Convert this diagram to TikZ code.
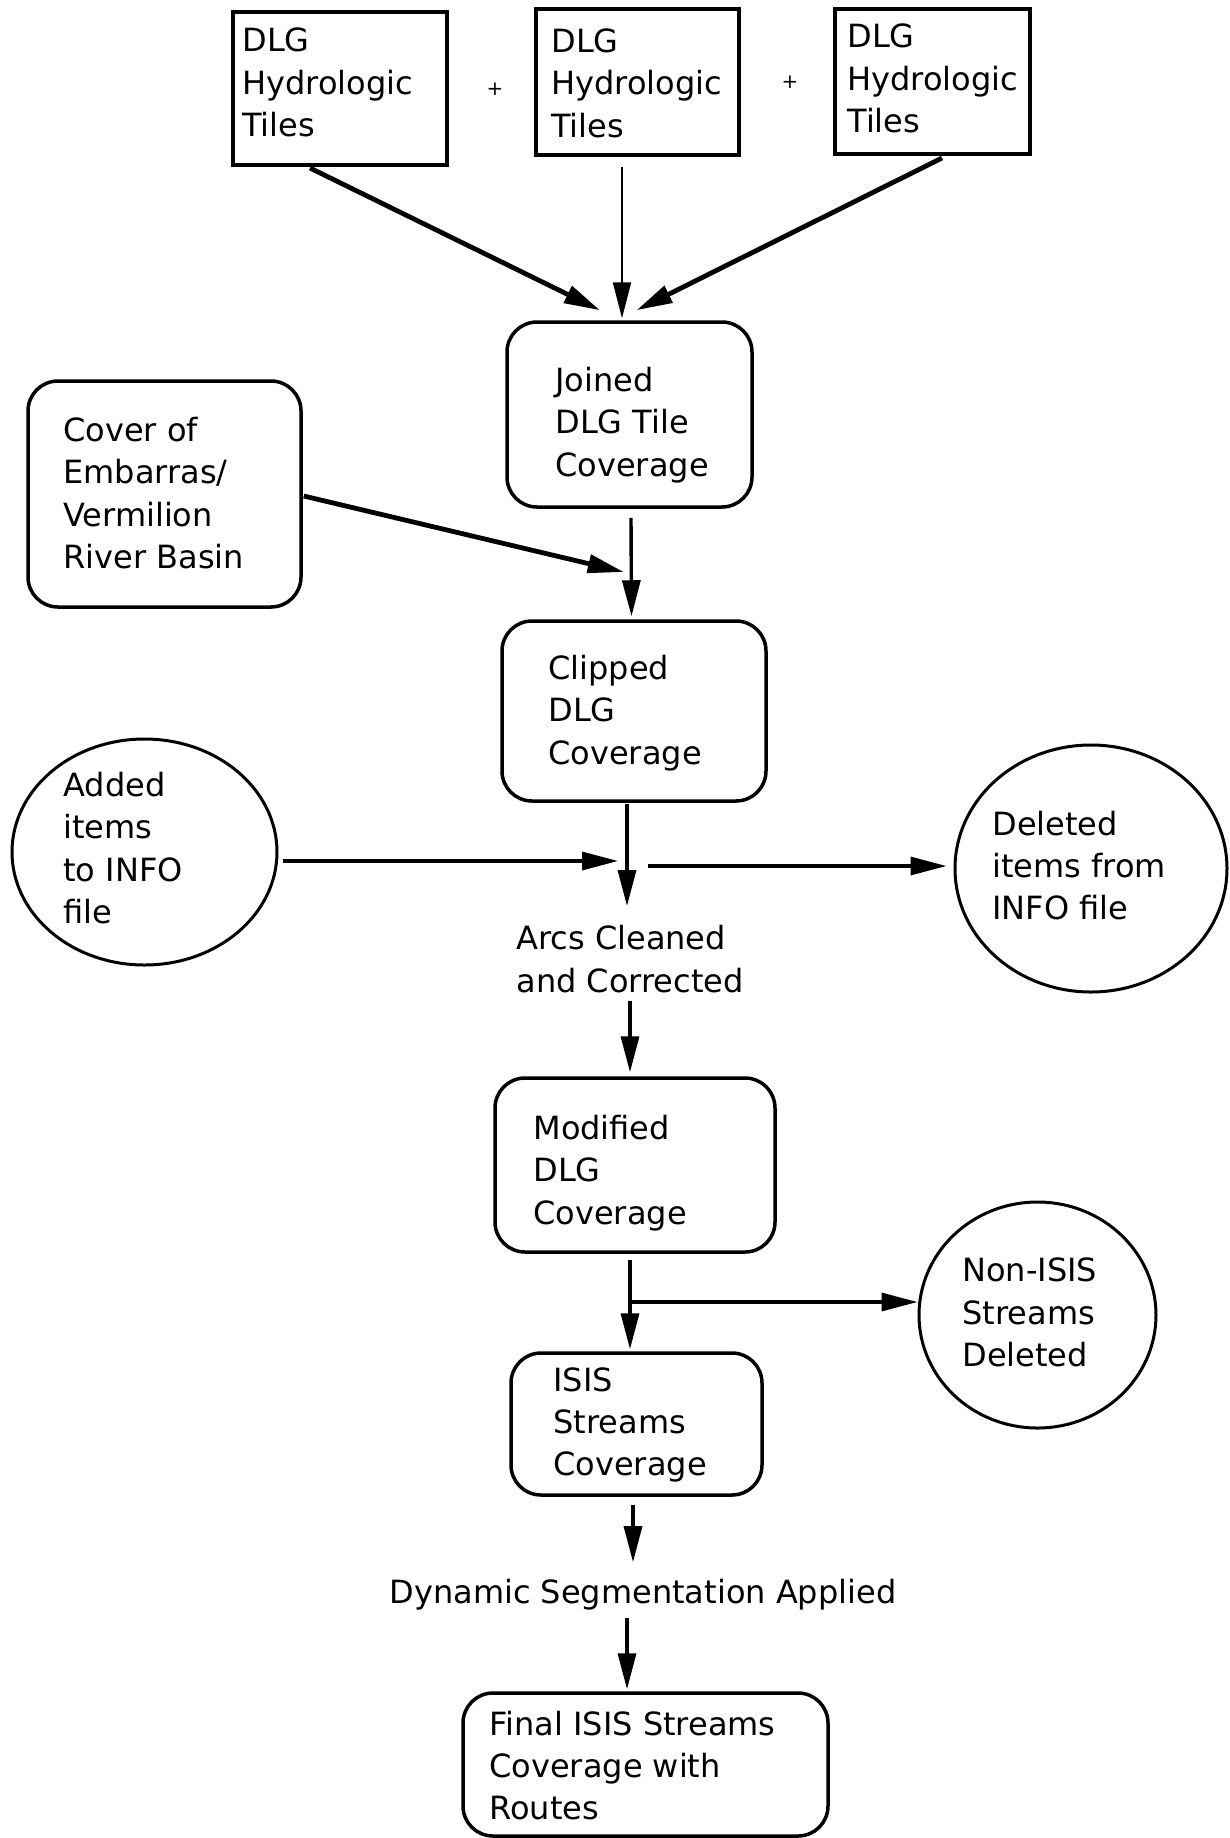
\documentclass[tikz,border=0pt]{standalone}
\usepackage{fontspec}
\setmainfont{DejaVu Sans}
\usetikzlibrary{arrows.meta,calc,shapes.geometric}
\begin{document}
\begin{tikzpicture}[x=0.5pt,y=-0.5pt,
  every node/.style={font=\fontsize{16}{21.2}\selectfont},
  sqbox/.style n args={2}{draw, line width=2pt, minimum width=#1, minimum height=#2, inner sep=0pt},
  rbox/.style n args={2}{draw, rounded corners=15pt, line width=1.75pt, minimum width=#1, minimum height=#2, inner sep=0pt},
  oval/.style n args={2}{draw, ellipse, line width=1.5pt, minimum width=#1, minimum height=#2, inner sep=0pt},
  txt/.style={align=left, inner sep=0pt, anchor=west},
  ctxt/.style={align=left, inner sep=0pt},
  plus/.style={font=\fontsize{10}{12}\selectfont, inner sep=0pt},
  tip/.style={-{Triangle[length=18pt,width=9pt]}},
  thk/.style={tip, line width=2.4pt},
  mid/.style={tip, line width=1.7pt},
  thn/.style={tip, line width=1pt}]
\useasboundingbox (0,0) rectangle (1230,1838);

% top tiles
\node[sqbox={107pt}{76.5pt}] (b1) at (340,88.5) {};
\node[txt] (b1t) at (242,82.5) {DLG\\Hydrologic\\Tiles};
\node[sqbox={101.5pt}{73pt}] (b2) at (637.5,82) {};
\node[txt] (b2t) at (551,83) {DLG\\Hydrologic\\Tiles};
\node[sqbox={97.5pt}{72.5pt}] (b3) at (932.5,81.5) {};
\node[txt] (b3t) at (847,78.5) {DLG\\Hydrologic\\Tiles};
\node[plus] (p1) at (495,89) {+};
\node[plus] (p2) at (790,82) {+};

% main column
\node[rbox={122.5pt}{92.5pt}] (j) at (629.5,414.5) {};
\node[txt] (jt) at (555,425) {Joined\\DLG Tile\\Coverage};
\node[rbox={136.5pt}{113pt}] (cov) at (164.5,494) {};
\node[txt] (covt) at (63,493) {Cover of\\Embarras/\\Vermilion\\River Basin};
\node[rbox={132pt}{90pt}] (c) at (634,711) {};
\node[txt] (ct) at (548,713) {Clipped\\DLG\\Coverage};
\node[oval={132.5pt}{113pt}] (added) at (144.5,852) {};
\node[txt] (addedt) at (63,848) {Added\\items\\to INFO\\file};
\node[oval={136pt}{123.5pt}] (del) at (1091,868.5) {};
\node[txt] (delt) at (992,865.5) {Deleted\\items from\\INFO file};
\node[ctxt] (arcs) at (630,959) {Arcs Cleaned\\and Corrected};
\node[rbox={140pt}{87pt}] (m) at (635,1165) {};
\node[txt] (mt) at (533,1173) {Modified\\DLG\\Coverage};
\node[oval={118.5pt}{113pt}] (non) at (1037.5,1315) {};
\node[txt] (nont) at (962,1312.5) {Non-ISIS\\Streams\\Deleted};
\node[rbox={125.5pt}{71pt}] (isis) at (636.5,1424) {};
\node[txt] (isist) at (553,1425) {ISIS\\Streams\\Coverage};
\node[ctxt] (dyn) at (643,1595) {Dynamic Segmentation Applied};
\node[rbox={182.5pt}{71.5pt}] (fin) at (645.5,1764.5) {};
\node[txt] (fint) at (489,1765.5) {Final ISIS Streams\\Coverage with\\Routes};

\coordinate (hub) at (627,864);
\coordinate (hub2) at (630,1302);

% connectors
\draw[thk] ($(b1.south)+(-30,1)$) -- ($(j.north)+(-29.5,-10)$);
\draw[thn] ($(b2.south)+(-15.5,10)$) -- ($(j.north)+(-7.5,-2)$);
\draw[thk] ($(b3.south)+(9.5,2)$) -- ($(j.north)+(7,-10)$);
\draw[thk] ($(cov.east)+(1,2)$) -- ($(j.south)!0.5!(c.north)+(-8,8)$);
\draw[mid] ($(j.south)+(1.5,9)$) -- ($(c.north)+(-2.5,-3)$);
\draw[mid] ($(c.south)+(-7,1)$) -- ($(arcs.north)+(-3,-19)$);
\draw[mid] ($(added.east)+(4,9)$) -- ($(hub)+(-9,-3)$);
\draw[mid] ($(hub)+(21,2)$) -- ($(del.west)+(-7,-2.5)$);
\draw[mid] ($(arcs.south)+(0,8)$) -- ($(m.north)+(-5,-4)$);
\draw[mid] ($(m.south)+(-5,6)$) -- ($(isis.north)+(-6.5,-2)$);
\draw[mid] (hub2) -- (hub2 -| non.west);
\draw[mid] ($(isis.south)+(-3.5,8)$) -- ($(dyn.north)+(-10,-17)$);
\draw[mid] ($(dyn.south)+(-16,7)$) -- ($(fin.north)+(-18.5,-2)$);
\end{tikzpicture}
\end{document}
